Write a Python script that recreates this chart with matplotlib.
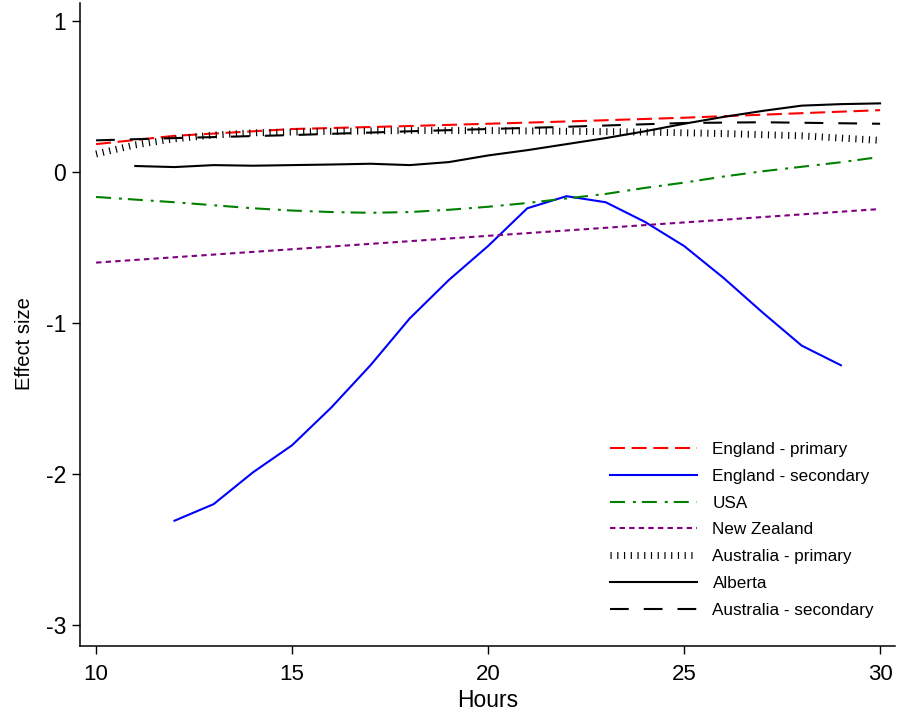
import matplotlib
matplotlib.use("Agg")
import matplotlib.pyplot as plt

# ---------------- data ----------------
eng_pri_x = [10, 12, 15, 18, 20, 22, 25, 28, 30]
eng_pri_y = [0.185, 0.24, 0.285, 0.305, 0.32, 0.335, 0.36, 0.39, 0.41]

eng_sec_x = list(range(12, 30))
eng_sec_y = [-2.31, -2.20, -1.99, -1.81, -1.56, -1.28, -0.97, -0.715, -0.49,
             -0.24, -0.16, -0.20, -0.33, -0.49, -0.70, -0.93, -1.15, -1.28]

usa_x = [10, 12, 14, 15, 16, 17, 18, 19, 20, 21, 22, 23, 24, 25, 26, 27, 28, 29, 30]
usa_y = [-0.165, -0.20, -0.24, -0.255, -0.265, -0.27, -0.265, -0.25, -0.23, -0.205,
         -0.175, -0.145, -0.105, -0.07, -0.03, 0.005, 0.035, 0.065, 0.10]

nz_x = [10, 30]
nz_y = [-0.60, -0.245]

aus_pri_x = [10, 11, 12, 13, 14, 16, 18, 20, 22, 24, 25, 26, 28, 30]
aus_pri_y = [0.12, 0.18, 0.22, 0.245, 0.26, 0.27, 0.275, 0.275, 0.27, 0.265, 0.26, 0.255, 0.24, 0.21]

alberta_x = list(range(11, 31))
alberta_y = [0.04, 0.033, 0.046, 0.042, 0.046, 0.05, 0.055, 0.046, 0.066, 0.11,
             0.145, 0.185, 0.225, 0.27, 0.32, 0.365, 0.405, 0.44, 0.45, 0.455]

aus_sec_x = [10, 12, 15, 18, 20, 22, 25, 27, 30]
aus_sec_y = [0.21, 0.225, 0.245, 0.27, 0.285, 0.30, 0.325, 0.33, 0.32]

labels = ["England - primary", "England - secondary", "USA", "New Zealand",
          "Australia - primary", "Alberta", "Australia - secondary"]
xticks = [10, 15, 20, 25, 30]
yticks = [-3, -2, -1, 0, 1]

plt.rcParams['font.family'] = ['Liberation Sans', 'DejaVu Sans']

fig = plt.figure(figsize=(8.97, 7.18), dpi=100)
ax = fig.add_axes([80/897, 72/718, 815/897, 643/718])

lw = 1.5
ax.plot(eng_pri_x, eng_pri_y, color='red', lw=lw, ls=(0, (7.2, 3.2)), label=labels[0])
ax.plot(eng_sec_x, eng_sec_y, color='blue', lw=lw, ls='-', label=labels[1])
ax.plot(usa_x, usa_y, color='green', lw=lw, ls=(0, (7.2, 3.8, 1.4, 2.9)), label=labels[2])
ax.plot(nz_x, nz_y, color='purple', lw=lw, ls=(0, (2.6, 2.0)), label=labels[3])
ax.plot(aus_pri_x, aus_pri_y, color='black', lw=5, ls=(0, (0.17, 0.8)), label=labels[4])
ax.plot(alberta_x, alberta_y, color='black', lw=lw, ls='-', label=labels[5])
ax.plot(aus_sec_x, aus_sec_y, color='black', lw=lw, ls=(0, (9.0, 7.2)), label=labels[6])

ax.set_xlim(9.59, 30.38)
ax.set_ylim(-3.14, 1.12)
ax.set_xticks(xticks)
ax.set_yticks(yticks)
ax.set_xticklabels([str(v) for v in xticks], fontsize=16)
ax.set_yticklabels([str(v) for v in yticks], fontsize=16.5)
ax.tick_params(axis='y', direction='out', length=6, width=1, pad=4)
ax.tick_params(axis='x', direction='out', length=6, width=1, pad=7)
ax.spines['top'].set_visible(False)
ax.spines['right'].set_visible(False)
for s in ('left', 'bottom'):
    ax.spines[s].set_linewidth(1.1)

ax.set_xlabel("Hours", fontsize=16.5, labelpad=3)
ax.set_ylabel("Effect size", fontsize=14.5)
ax.yaxis.set_label_coords(-0.057, 0.47)

leg = ax.legend(loc='upper left', bbox_to_anchor=(610/897, 1 - 442/718),
                bbox_transform=fig.transFigure, frameon=False, fontsize=12.3,
                handlelength=5.1, handletextpad=0.9, labelspacing=0.69,
                borderpad=0, borderaxespad=0)

fig.savefig("out.png", dpi=100)
